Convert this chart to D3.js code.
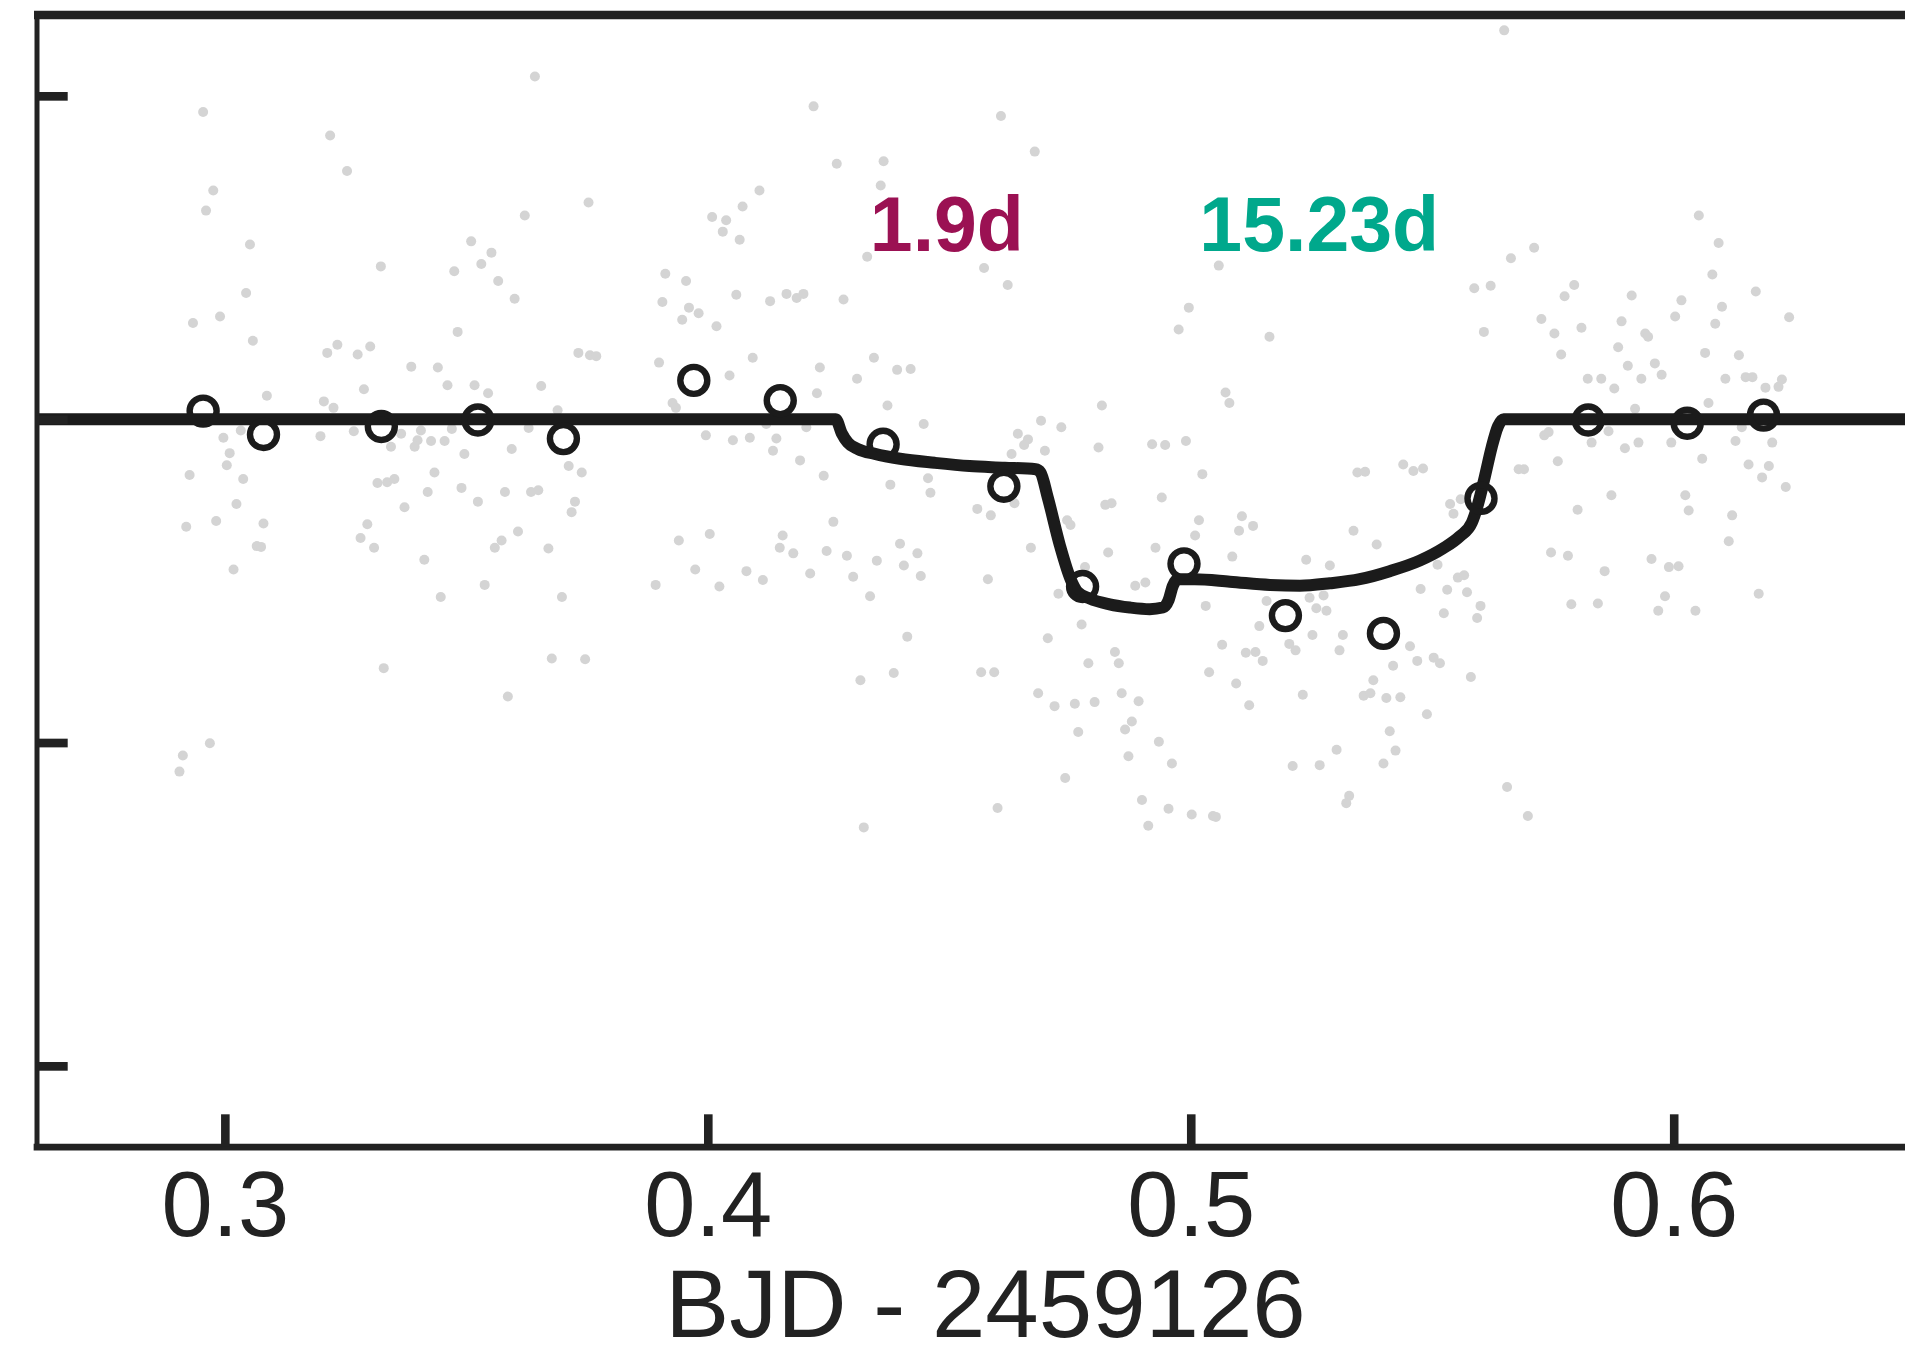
<!DOCTYPE html>
<html>
<head>
<meta charset="utf-8">
<script src="https://cdn.jsdelivr.net/npm/d3@7"></script>
<style>
  html, body { margin: 0; padding: 0; background: #ffffff; }
  svg { display: block; }
</style>
</head>
<body>
<svg id="chart" width="1905" height="1359"></svg>
<script>
// Transit light curve: unbinned photometry (grey dots), binned points (open
// circles) and the two-planet transit model. Flux is in ppt relative to the
// out-of-transit level; time is BJD - 2459126.

const rawTime = [
  0.3642, 0.2955, 0.3218, 0.3253, 0.2976, 0.2961, 0.3753, 0.3621, 0.3052, 0.3510,
  0.3552, 0.3531, 0.3475, 0.3323, 0.3566, 0.3044, 0.3600, 0.3912, 0.3955, 0.3906,
  0.3961, 0.3947, 0.3981, 0.2934, 0.2990, 0.3482, 0.3058, 0.3212, 0.3233, 0.3275,
  0.3301, 0.3732, 0.3756, 0.3769, 0.3899, 0.3386, 0.3441, 0.3288, 0.3461, 0.3517,
  0.3545, 0.3655, 0.3087, 0.3205, 0.3225, 0.3927, 0.3934, 0.3689, 0.3033, 0.2997,
  0.3198, 0.3267, 0.3365, 0.3406, 0.3470, 0.3629, 0.3399, 0.3427, 0.3455, 0.3344,
  0.3393, 0.3010, 0.3496, 0.3594, 0.3004, 0.2927, 0.3038, 0.3434, 0.3316, 0.3336,
  0.3351, 0.3712, 0.3739, 0.3420, 0.3490, 0.3580, 0.3634, 0.3649, 0.3024, 0.3524,
  0.3725, 0.3718, 0.3372, 0.2920, 0.2982, 0.3080, 0.3295, 0.3281, 0.3309, 0.3066,
  0.3075, 0.3018, 0.3413, 0.3607, 0.3573, 0.3559, 0.3670, 0.3538, 0.3447, 0.3698,
  0.3940, 0.3974, 0.3892, 0.3329, 0.3677, 0.3746, 0.3586, 0.2969, 0.2913, 0.2906,
  0.4219, 0.4607, 0.4677, 0.4267, 0.4364, 0.4358, 0.4107, 0.4072, 0.4009, 0.4038,
  0.4031, 0.4066, 0.4330, 0.4572, 0.4621, 0.5058, 0.4059, 0.4129, 0.4163, 0.4184,
  0.4198, 0.4281, 0.4018, 0.4996, 0.4975, 0.5163, 0.4093, 0.4045, 0.4232, 0.4309,
  0.4344, 0.4392, 0.4420, 0.4226, 0.4372, 0.4816, 0.5072, 0.5080, 0.4447, 0.4690,
  0.4732, 0.4642, 0.4663, 0.4655, 0.4629, 0.4698, 0.4809, 0.4920, 0.4947, 0.4990,
  0.3996, 0.4052, 0.4087, 0.4142, 0.4121, 0.4204, 0.4135, 0.4191, 0.4240, 0.4378,
  0.4456, 0.4461, 0.5024, 0.5345, 0.5361, 0.4940, 0.4558, 0.4586, 0.4635, 0.4260,
  0.4004, 0.4155, 0.4149, 0.4177, 0.4246, 0.4288, 0.4350, 0.4398, 0.4434, 0.4406,
  0.4441, 0.4080, 0.4114, 0.4212, 0.4301, 0.4024, 0.4336, 0.4580, 0.4669, 0.4823,
  0.4836, 0.4744, 0.4751, 0.4829, 0.5017, 0.5009, 0.4927, 0.5106, 0.5100, 0.5129,
  0.5086, 0.5337, 0.5385, 0.5239, 0.5288, 0.4781, 0.4726, 0.4885, 0.4906, 0.5031,
  0.4774, 0.4704, 0.4413, 0.5157, 0.5246, 0.5275, 0.5260, 0.5281, 0.5142, 0.5252,
  0.5315, 0.5065, 0.5204, 0.5217, 0.5308, 0.5114, 0.5134, 0.5149, 0.4843, 0.4788,
  0.4851, 0.5038, 0.4566, 0.4593, 0.4385, 0.4316, 0.5094, 0.5378, 0.5419, 0.4684,
  0.4718, 0.4760, 0.4801, 0.4857, 0.4892, 0.5121, 0.5232, 0.5358, 0.5372, 0.5405,
  0.4878, 0.4864, 0.4767, 0.4934, 0.5412, 0.5302, 0.4871, 0.4961, 0.5211, 0.5267,
  0.5399, 0.5424, 0.4740, 0.5328, 0.5322, 0.4899, 0.4600, 0.4954, 0.5002, 0.5046,
  0.5052, 0.4912, 0.4323, 0.5649, 0.6052, 0.6093, 0.6080, 0.5711, 0.5663, 0.5587,
  0.5621, 0.5794, 0.5774, 0.5913, 0.6016, 0.6170, 0.6003, 0.6100, 0.6086, 0.6239,
  0.5607, 0.5726, 0.5753, 0.5809, 0.5892, 0.5941, 0.5947, 0.5767, 0.5885, 0.6065,
  0.6135, 0.5905, 0.5961, 0.5975, 0.5822, 0.5850, 0.5877, 0.5933, 0.6107, 0.6149,
  0.6163, 0.6224, 0.6190, 0.6217, 0.6072, 0.5920, 0.5732, 0.5741, 0.5865, 0.5830,
  0.5899, 0.5927, 0.5995, 0.6141, 0.6128, 0.6204, 0.5760, 0.6059, 0.6155, 0.6197,
  0.6183, 0.6232, 0.5871, 0.6024, 0.5679, 0.5690, 0.5440, 0.5461, 0.5481, 0.5537,
  0.5559, 0.5544, 0.5801, 0.6031, 0.6121, 0.6114, 0.5746, 0.5781, 0.5511, 0.5857,
  0.5954, 0.5990, 0.6010, 0.5553, 0.5566, 0.5476, 0.5531, 0.5572, 0.5600, 0.5524,
  0.5593, 0.5788, 0.5843, 0.5982, 0.5968, 0.6045, 0.6176, 0.5454, 0.5469, 0.5503,
  0.5516, 0.5580, 0.5434, 0.5489, 0.5655, 0.5698
];

const rawFlux = [
   4.24,  3.80,  3.51,  3.07,  2.83,  2.58,  2.68,  2.52,  2.16,  2.20,
   2.06,  1.92,  1.83,  1.89,  1.71,  1.56,  1.49,  1.80,  1.71,  1.45,
   1.38,  1.23,  1.31,  1.19,  1.27,  1.08,  0.97,  0.82,  0.92,  0.80,
   0.90,  0.82,  0.79,  0.78,  0.70,  0.65,  0.64,  0.37,  0.42,  0.42,
   0.32,  0.41,  0.29,  0.22,  0.14,  0.20,  0.14,  0.11, -0.14, -0.23,
  -0.21, -0.15, -0.18, -0.14, -0.12, -0.11, -0.26, -0.27, -0.27, -0.34,
  -0.34, -0.42, -0.43, -0.37, -0.57, -0.69, -0.74, -0.66, -0.79, -0.78,
  -0.74, -0.58, -0.66, -0.90, -0.85, -0.90, -0.90, -0.88, -1.05, -1.02,
  -1.02, -1.15, -1.09, -1.33, -1.26, -1.29, -1.30, -1.47, -1.59, -1.57,
  -1.58, -1.86, -1.74, -1.39, -1.50, -1.59, -1.60, -2.05, -2.20, -2.20,
  -1.50, -1.86, -2.05, -3.08, -2.96, -2.97, -3.43, -4.01, -4.16, -4.36,
   3.87,  3.75,  3.31,  3.16,  3.19,  2.89,  2.83,  2.63,  2.50,  2.46,
   2.32,  2.22,  2.01,  1.87,  1.66,  1.90,  1.54,  1.46,  1.55,  1.50,
   1.55,  1.48,  1.15,  1.38,  1.11,  1.02,  0.76,  0.54,  0.64,  0.50,
   0.76,  0.61,  0.62,  0.32,  0.17,  0.17,  0.33,  0.20, -0.06, -0.02,
  -0.10, -0.18, -0.25, -0.32, -0.43, -0.39, -0.35, -0.31, -0.32, -0.27,
  -0.20, -0.26, -0.23, -0.24, -0.06, -0.10, -0.39, -0.51, -0.70, -0.81,
  -0.73, -0.91, -0.68, -0.66, -0.65, -0.97, -1.11, -1.19, -1.04, -1.27,
  -1.42, -1.44, -1.59, -1.66, -1.63, -1.69, -1.75, -1.54, -1.66, -1.81,
  -1.94, -1.88, -1.99, -1.91, -1.95, -2.07, -2.19, -1.98, -1.59, -1.06,
  -1.04, -1.25, -1.31, -1.65, -1.25, -1.44, -1.59, -1.20, -1.38, -1.32,
  -1.70, -1.38, -1.55, -1.74, -1.81, -1.83, -2.16, -2.06, -2.02, -2.31,
  -2.54, -2.71, -2.69, -2.25, -2.21, -2.18, -2.34, -2.37, -2.56, -2.67,
  -2.67, -2.79, -2.78, -2.86, -2.86, -2.89, -2.88, -2.99, -2.88, -3.02,
  -3.02, -3.13, -3.13, -3.13, -3.14, -3.23, -3.27, -3.23, -3.05, -3.39,
  -3.55, -3.52, -3.50, -3.39, -3.49, -3.54, -3.41, -3.42, -3.39, -3.45,
  -3.74, -3.84, -3.87, -3.99, -3.86, -4.09, -4.17, -4.26, -4.29, -4.28,
  -4.26, -4.10, -4.44, -4.66, -4.75, -4.71, -4.81, -4.82, -4.89, -4.91,
  -4.92, -5.03, -5.05,  4.81,  2.52,  2.18,  1.79,  2.12,  1.99,  1.62,
   1.65,  1.66,  1.52,  1.53,  1.47,  1.58,  1.27,  1.39,  1.18,  1.26,
   1.08,  1.24,  1.06,  1.13,  1.21,  1.06,  1.02,  0.80,  0.89,  0.82,
   0.79,  0.66,  0.69,  0.55,  0.50,  0.50,  0.38,  0.50,  0.50,  0.52,
   0.52,  0.49,  0.39,  0.40,  0.20,  0.13, -0.20, -0.16, -0.15, -0.29,
  -0.36, -0.29, -0.29, -0.10, -0.27, -0.29, -0.52, -0.49, -0.56, -0.58,
  -0.72, -0.84, -0.94, -0.94, -0.62, -0.62, -0.56, -0.64, -0.61, -1.05,
  -0.99, -1.17, -1.12, -1.13, -1.19, -1.51, -1.65, -1.69, -1.80, -1.88,
  -1.73, -1.83, -1.82, -1.96, -1.93, -2.10, -2.11, -2.14, -2.31, -2.40,
  -2.46, -2.29, -2.28, -2.19, -2.37, -2.37, -2.16, -2.81, -2.99, -2.95,
  -3.02, -3.19, -3.44, -3.65, -4.55, -4.91
];

// Binned photometry
const binTime = [0.2955, 0.3080, 0.3324, 0.3524, 0.3701, 0.3971, 0.4150, 0.4363, 0.4613,
                 0.4776, 0.4986, 0.5196, 0.5399, 0.5601, 0.5823, 0.6028, 0.6186];
const binFlux = [0.10, -0.19, -0.09, -0.01, -0.24, 0.48, 0.23, -0.31, -0.83,
                 -2.07, -1.79, -2.43, -2.65, -0.98, -0.01, -0.05, 0.05];

// Combined transit model (1.9 d and 15.23 d planets)
const modelTime = [0.2610, 0.4265, 0.4277, 0.4290, 0.4311, 0.4346, 0.4398, 0.4470, 0.4542,
                   0.4615, 0.4679, 0.4689, 0.4704, 0.4729, 0.4752, 0.4766, 0.4791, 0.4832,
                   0.4874, 0.4915, 0.4942, 0.4954, 0.4963, 0.4973, 0.5008, 0.5081, 0.5164,
                   0.5226, 0.5288, 0.5350, 0.5412, 0.5474, 0.5522, 0.5557, 0.5582, 0.5594,
                   0.5609, 0.5623, 0.5636, 0.5648, 0.6540];
const modelFlux = [0, 0, -0.17, -0.29, -0.37, -0.43, -0.49, -0.54, -0.58,
                   -0.60, -0.62, -0.66, -0.97, -1.56, -1.99, -2.14, -2.22, -2.29,
                   -2.33, -2.35, -2.33, -2.24, -2.06, -1.98, -1.98, -2.01, -2.05,
                   -2.06, -2.03, -1.98, -1.88, -1.75, -1.60, -1.45, -1.28, -1.07,
                   -0.71, -0.35, -0.09, 0, 0];

const xTicks = [0.3, 0.4, 0.5, 0.6];
const yTicks = [4, 0, -4, -8];
const xDomain = [0.261, 0.654];
const yDomain = [-9, 5];

const planetLabels = ["1.9d", "15.23d"];
const labelTime = [0.4495, 0.5266];
const labelFlux = [2.08, 2.08];
const labelColors = ["#9b1153", "#00a88c"];
const xTitle = "BJD - 2459126";

const FONT = "'Liberation Sans', Arial, Helvetica, sans-serif";
const INK = "#222222";

const svg = d3.select("#chart");
svg.append("rect").attr("width", 1905).attr("height", 1359).attr("fill", "#ffffff");

const x = d3.scaleLinear().domain(xDomain).range([36.5, 1934.5]);
const y = d3.scaleLinear().domain(yDomain).range([1146.7, 15]);

// Unbinned photometry
svg.append("g")
  .selectAll("circle")
  .data(d3.range(rawTime.length))
  .join("circle")
  .attr("cx", i => x(rawTime[i]))
  .attr("cy", i => y(rawFlux[i]))
  .attr("r", 5)
  .attr("fill", "#d4d4d4");

// Transit model
const model = d3.range(modelTime.length).map(i => [modelTime[i], modelFlux[i]]);
svg.append("path")
  .datum(model)
  .attr("fill", "none")
  .attr("stroke", "#1b1b1b")
  .attr("stroke-width", 12)
  .attr("stroke-linejoin", "round")
  .attr("stroke-linecap", "butt")
  .attr("d", d3.line().x(d => x(d[0])).y(d => y(d[1])).curve(d3.curveMonotoneX));

// Binned points
svg.append("g")
  .selectAll("circle")
  .data(d3.range(binTime.length))
  .join("circle")
  .attr("cx", i => x(binTime[i]))
  .attr("cy", i => y(binFlux[i]))
  .attr("r", 13.5)
  .attr("fill", "none")
  .attr("stroke", "#1b1b1b")
  .attr("stroke-width", 6.4);

// Planet period labels
svg.append("g")
  .selectAll("text")
  .data(planetLabels)
  .join("text")
  .attr("x", (d, i) => x(labelTime[i]))
  .attr("y", (d, i) => y(labelFlux[i]))
  .attr("text-anchor", "middle")
  .attr("font-family", FONT)
  .attr("font-weight", "bold")
  .attr("font-size", 77)
  .attr("fill", (d, i) => labelColors[i])
  .text(d => d);

// Frame: top edge
svg.append("line")
  .attr("x1", x(xDomain[0]) - 2.5).attr("x2", x(xDomain[1]))
  .attr("y1", y(yDomain[1])).attr("y2", y(yDomain[1]))
  .attr("stroke", INK).attr("stroke-width", 8.3);

// Left axis (inward ticks, labels outside the visible area)
const gy = svg.append("g")
  .attr("transform", `translate(${x(xDomain[0])},0)`)
  .call(d3.axisLeft(y).tickValues(yTicks).tickSizeInner(-31.2).tickSizeOuter(0).tickFormat(""));
gy.select(".domain").attr("stroke", INK).attr("stroke-width", 5).attr("stroke-linecap", "square");
gy.selectAll(".tick line").attr("stroke", INK).attr("stroke-width", 8.7);
gy.selectAll(".tick text").remove();

// Bottom axis
const gx = svg.append("g")
  .attr("transform", `translate(0,${y(yDomain[0])})`)
  .call(d3.axisBottom(x).tickValues(xTicks).tickSizeInner(-32.4).tickSizeOuter(0).tickFormat(d3.format(".1f")));
gx.select(".domain").attr("stroke", INK).attr("stroke-width", 6.7).attr("stroke-linecap", "square");
gx.selectAll(".tick line").attr("stroke", INK).attr("stroke-width", 8.6);
gx.selectAll(".tick text")
  .attr("y", 89.5)
  .attr("dy", null)
  .attr("font-family", FONT)
  .attr("font-size", 92)
  .attr("fill", INK);

// Axis title
svg.append("text")
  .attr("x", (x(xDomain[0]) + x(xDomain[1])) / 2)
  .attr("y", 1337)
  .attr("text-anchor", "middle")
  .attr("font-family", FONT)
  .attr("font-size", 96)
  .attr("fill", INK)
  .text(xTitle);
</script>
</body>
</html>
